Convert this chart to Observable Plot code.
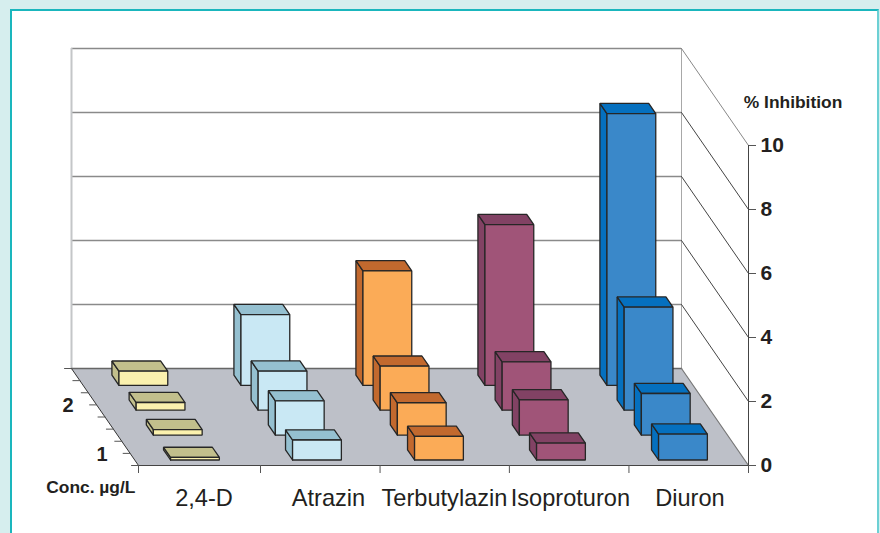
<!DOCTYPE html>
<html><head><meta charset="utf-8">
<script src="https://cdn.jsdelivr.net/npm/d3@7"></script>
<script src="https://cdn.jsdelivr.net/npm/@observablehq/plot@0.6"></script>
<style>
html,body{margin:0;padding:0;width:880px;height:533px;overflow:hidden;background:#d6eeee}
#frame{position:absolute;left:9.5px;top:9px;width:865px;height:600px;background:#fff;border:solid #1ab6bd;border-width:2px 2px 2px 2px;border-right-color:#6cd0d4}
#chart{position:absolute;left:0;top:0}
</style></head><body>
<div id="frame"></div><div id="chart"></div>
<script>
const compounds = ["2,4-D","Atrazin","Terbutylazin","Isoproturon","Diuron"];
const labelAt = [0.537,1.557,2.508,3.54,4.52];
const slotEdges = [0,1,1.98,3.04,4.02,5];
const frontColor = ["#fbf1ae","#c9e8f4","#fbab57","#a05478","#3a88c9"];
const sideColor = ["#c2bf8c","#95c0d0","#c2692e","#824264","#0570bf"];
// rows run back to front
const v24D = [0.44,0.24,0.17,0.08];
const vAtrazin = [2.21,1.22,1.07,0.625];
const vTerbutylazin = [3.575,1.375,1.01,0.74];
const vIsoproturon = [5.02,1.51,1.10,0.53];
const vDiuron = [8.49,3.22,1.30,0.81];
const series = [v24D,vAtrazin,vTerbutylazin,vIsoproturon,vDiuron];
const rowDepth = [0.827,0.5703,0.3135,0.0567];
const barDepth = 0.105, barWidth = 0.4;
const concLabels = [{t:"1",d:0.115},{t:"2",d:0.622}];
const depthTicks = [0,0.125,0.25,0.375,0.5,0.625,0.75,0.875,1];
const grid = [2,4,6,8,10];

// oblique projection of (category, depth, value) into the x/y data space
const shearX = 67/122, shearY = 97/32;
const P = (c,d,v=0) => ({x:c-d*shearX, y:v+d*shearY});

const polys = [];
const face = (id,fill,pts) => pts.concat([pts[0]]).forEach(p=>polys.push({id,fill,...P(...p)}));
series.forEach((vals,ci)=>vals.forEach((v,r)=>{
  const c0=ci+.494-barWidth/2,c1=ci+.494+barWidth/2,d0=rowDepth[r],d1=d0+barDepth;
  face(`s${ci}${r}`,sideColor[ci],[[c0,d0,0],[c0,d1,0],[c0,d1,v],[c0,d0,v]]);
  face(`t${ci}${r}`,sideColor[ci],[[c0,d0,v],[c0,d1,v],[c1,d1,v],[c1,d0,v]]);
  face(`f${ci}${r}`,frontColor[ci],[[c0,d0,0],[c1,d0,0],[c1,d0,v],[c0,d0,v]]);
}));
const floor=[];
[[0,0],[5,0],[5,1],[0,1],[0,0]].forEach(([c,d])=>floor.push(P(c,d)));
const backX0=P(0,1).x, backX1=P(5,1).x, back0=P(0,1).y;
const seg=(a,b,o)=>Plot.line([a,b],{x:"x",y:"y",...o});

const plot = Plot.plot({
  width:880,height:533,marginLeft:138,marginRight:132,marginTop:145,marginBottom:68,
  style:{background:"transparent",fontFamily:"'Liberation Sans',Arial,sans-serif",color:"#231f20",overflow:"visible"},
  x:{domain:[0,5],axis:null},
  y:{domain:[0,10],axis:null},
  color:{type:"identity"},
  marks:[
    // back wall grid
    Plot.ruleY(grid,{x1:backX0,x2:backX1,y:g=>g+back0,stroke:"#8a8a8a",strokeWidth:1.5}),
    Plot.ruleX([backX0],{y1:back0,y2:back0+10,stroke:"#c4c6c8",strokeWidth:2}),
    Plot.ruleX([backX1],{y1:back0,y2:back0+10,stroke:"#a8a8a8",strokeWidth:1}),
    // side wall
    ...grid.map(g=>seg(P(5,1,g),P(5,0,g),{stroke:g===10?"#888":"#444",strokeWidth:1})),
    // floor
    Plot.line(floor,{x:"x",y:"y",fill:"#bdc0c8",stroke:"none"}),
    seg(P(0,1),P(5,1),{stroke:"#666",strokeWidth:1.5}),
    seg(P(5,1),P(5,0),{stroke:"#777",strokeWidth:1.2}),
    seg(P(0,1),P(0,0),{stroke:"#333",strokeWidth:1}),
    seg(P(0,0),P(5,0),{stroke:"#444",strokeWidth:1}),
    // axes
    Plot.ruleX([5],{y1:0,y2:10,stroke:"#444",strokeWidth:1}),
    Plot.axisY({anchor:"right",ticks:[0,2,4,6,8,10],tickSize:7,tickPadding:5,label:null,fontWeight:"bold",fontSize:21,stroke:"#555"}),
    Plot.axisX({anchor:"bottom",ticks:slotEdges,tickSize:8,tickFormat:()=>"",label:null,stroke:"#555"}),
    ...depthTicks.map(d=>seg(P(0,d),{x:P(0,d).x-7/122,y:P(0,d).y},{stroke:"#555",strokeWidth:1})),
    // bars
    Plot.line(polys,{x:"x",y:"y",z:"id",fill:"fill",stroke:"#262626",strokeWidth:1.3,strokeLinejoin:"miter"}),
    // labels
    Plot.text(compounds,{x:(d,i)=>labelAt[i],y:-1.02,text:d=>d,fontSize:23.6,fill:"#231f20"}),
    Plot.text(concLabels,{x:d=>P(0,d.d).x-0.235,y:d=>P(0,d.d).y,text:"t",fontSize:20,fontWeight:"bold",fill:"#231f20"}),
    Plot.text(["Conc. µg/L"],{x:-0.025,y:-0.69,text:d=>d,textAnchor:"end",fontSize:17.4,fontWeight:"bold",fill:"#231f20"}),
    Plot.text(["% Inhibition"],{x:5.365,y:11.35,text:d=>d,fontSize:17.4,fontWeight:"bold",fill:"#231f20"})
  ]
});
document.getElementById("chart").append(plot);
</script></body></html>
